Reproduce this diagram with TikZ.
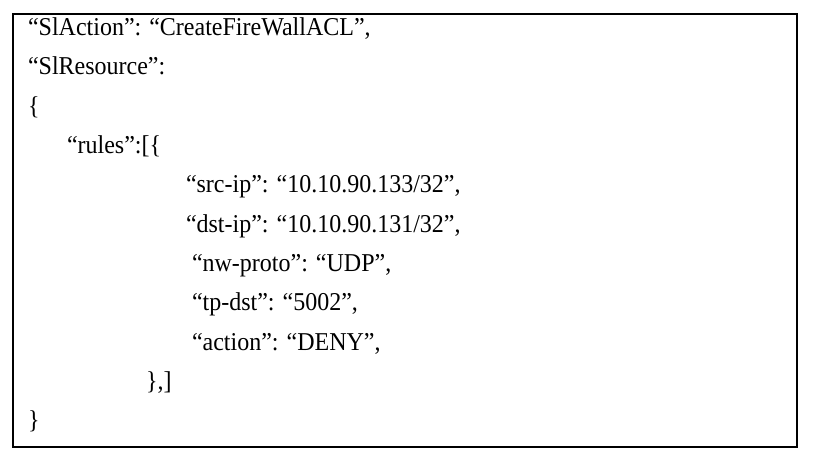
\documentclass[tikz,border=0pt]{standalone}
\usepackage{fontspec}
\usepackage{graphicx}
\setmainfont{Liberation Serif}
\newcommand{\tallline}[1]{\scalebox{1}[1.07]{#1}}
\begin{document}
\begin{tikzpicture}[x=1pt,y=-1pt,
  codeline/.style={anchor=base west,inner sep=0pt,outer sep=0pt,font=\fontsize{24}{28}\selectfont}]
\useasboundingbox (0,0) rectangle (814,456);
\draw[line width=2pt] (12.5,14) rectangle (796.5,447) coordinate (frame);
\node[codeline] (l1) at (28,35) {\tallline{“SlAction”: “CreateFireWallACL”,}};
\node[codeline] (l2) at (28,74.5) {\tallline{“SlResource”:}};
\node[codeline] (l3) at (28,114) {\tallline{\{}};
\node[codeline] (l4) at (67,153) {\tallline{“rules”:[\{}};
\node[codeline] (l5) at (186,192.5) {\tallline{“src-ip”: “10.10.90.133/32”,}};
\node[codeline] (l6) at (186,232) {\tallline{“dst-ip”: “10.10.90.131/32”,}};
\node[codeline] (l7) at (192,271) {\tallline{“nw-proto”: “UDP”,}};
\node[codeline] (l8) at (192,310.5) {\tallline{“tp-dst”: “5002”,}};
\node[codeline] (l9) at (192,350) {\tallline{“action”: “DENY”,}};
\node[codeline] (l10) at (146,389) {\tallline{\},]}};
\node[codeline] (l11) at (28,428.5) {\tallline{\}}};
\end{tikzpicture}
\end{document}
